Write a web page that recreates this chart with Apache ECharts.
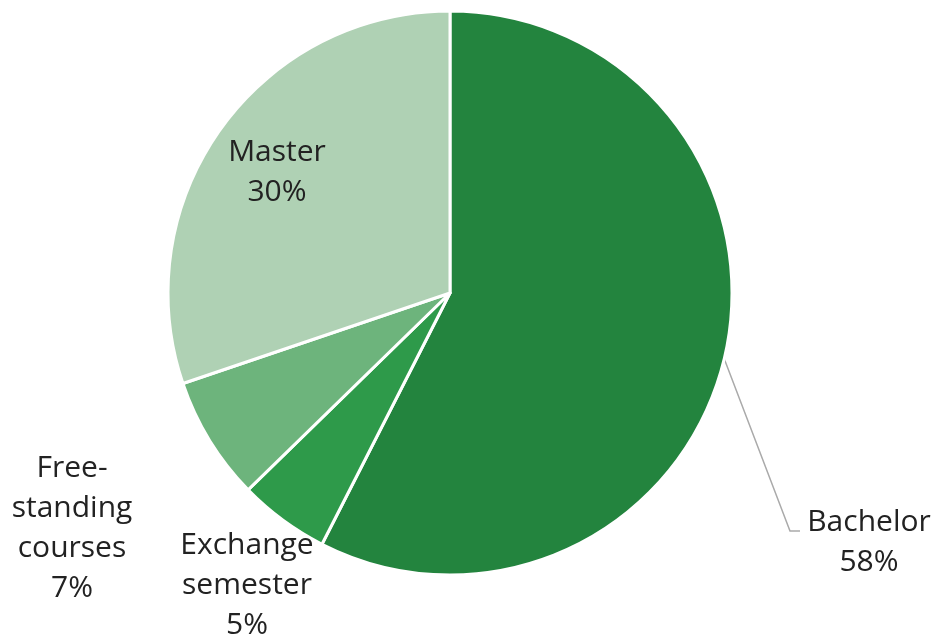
<!DOCTYPE html>
<html>
<head>
<meta charset="utf-8">
<script src="https://cdn.jsdelivr.net/npm/echarts@6/dist/echarts.min.js"></script>
<style>
  html, body { margin: 0; padding: 0; background: #fff; }
  #chart { width: 937px; height: 641px; }
</style>
</head>
<body>
<div id="chart"></div>
<script>
const categories = ['Bachelor', 'Exchange\nsemester', 'Free-\nstanding\ncourses', 'Master'];
const shares = [57.5, 5.2, 7.1, 30.2];
const colors = ['#23843e', '#2e9a4a', '#6db47c', '#afd1b4'];

// where each label block sits (centre of text)
const labelSpots = [[869, 542], [247, 585], [72, 528], [277, 172]];

const chart = echarts.init(document.getElementById('chart'));

const data = categories.map((name, i) => ({
    name: name,
    value: shares[i],
    itemStyle: { color: colors[i] },
    label: { position: i === 3 ? 'inside' : 'outside' },
    labelLine: { show: i === 0 }
}));

chart.setOption({
    animation: false,
    series: [{
        type: 'pie',
        center: [450, 293],
        radius: 282,
        startAngle: 90,
        clockwise: true,
        data: data,
        itemStyle: { borderColor: '#fff', borderWidth: 3 },
        label: {
            formatter: p => p.name + '\n' + Math.round(p.value) + '%',
            fontFamily: 'Open Sans',
            fontSize: 30,
            lineHeight: 40,
            color: '#222',
            align: 'center'
        },
        labelLine: {
            lineStyle: { color: '#aaa', width: 1.5 },
            length: 20,
            length2: 10
        },
        labelLayout: function (params) {
            const i = params.dataIndex;
            const spot = labelSpots[i];
            const out = {
                x: spot[0],
                y: spot[1],
                align: 'center',
                verticalAlign: 'middle'
            };
            if (i === 0 && params.labelLinePoints) {
                const start = params.labelLinePoints[0];
                out.labelLinePoints = [start, [790, 531], [800, 531]];
            }
            return out;
        }
    }]
});
</script>
</body>
</html>
